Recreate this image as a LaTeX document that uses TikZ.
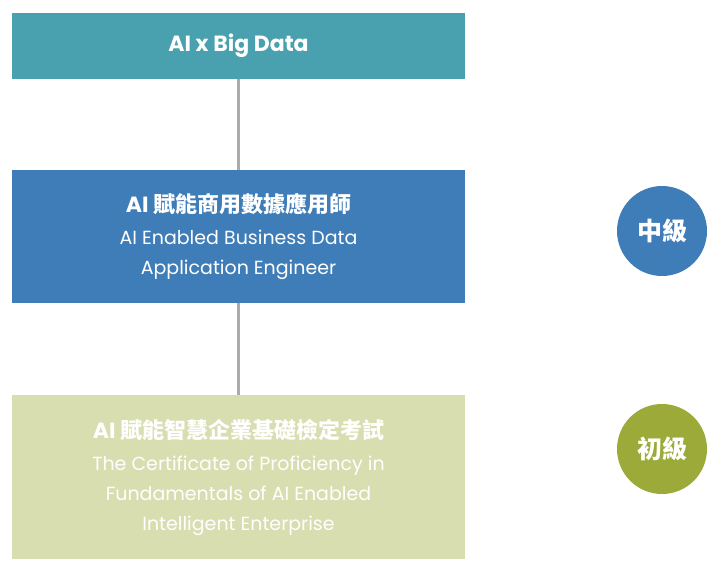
\documentclass[tikz,border=0pt]{standalone}
\usepackage{fontspec}
\setmainfont{Poppins}
\newfontfamily\cjk{Noto Sans CJK TC}
\usetikzlibrary{positioning}
\definecolor{tealbox}{HTML}{49A0AF}
\definecolor{bluebox}{HTML}{3F7DB8}
\definecolor{greenbox}{HTML}{D8DEB0}
\definecolor{olive}{HTML}{9BAA38}
\definecolor{greyline}{HTML}{ABABAB}
\tikzset{
    levelbox/.style={minimum width=453pt, inner sep=0pt, align=center, text=white,
        font=\fontsize{19}{30}\selectfont},
    badge/.style={circle, minimum size=90pt, inner sep=0pt, text=white, font=\fontsize{25}{28}\selectfont\cjk\bfseries},
    link/.style={draw=greyline, line width=2.5pt}
}
\newcommand{\ttl}{\fontsize{22}{30}\selectfont\bfseries}
\begin{document}
\begin{tikzpicture}[x=1pt, y=-1pt]
    \useasboundingbox (0,0) rectangle (714,576);
    \node[levelbox, fill=tealbox, minimum height=66pt] (big) at (238.5,46) {\ttl AI x Big Data};
    \node[levelbox, fill=bluebox, minimum height=133pt] (mid) at (238.5,236.5)
        {{\ttl AI {\cjk 賦能商用數據應用師}}\\[2pt] AI Enabled Business Data\\ Application Engineer};
    \node[levelbox, fill=greenbox, minimum height=164pt] (base) at (238.5,477)
        {{\ttl AI {\cjk 賦能智慧企業基礎檢定考試}}\\[2pt] The Certificate of Proficiency in\\ Fundamentals of AI Enabled\\ Intelligent Enterprise};
    \draw[link] (big.south) -- (mid.north);
    \draw[link] (mid.south) -- (base.north);
    \node[badge, fill=bluebox] (midlv) at (662,231) {中級};
    \node[badge, fill=olive] (baselv) at (662,449) {初級};
\end{tikzpicture}
\end{document}
